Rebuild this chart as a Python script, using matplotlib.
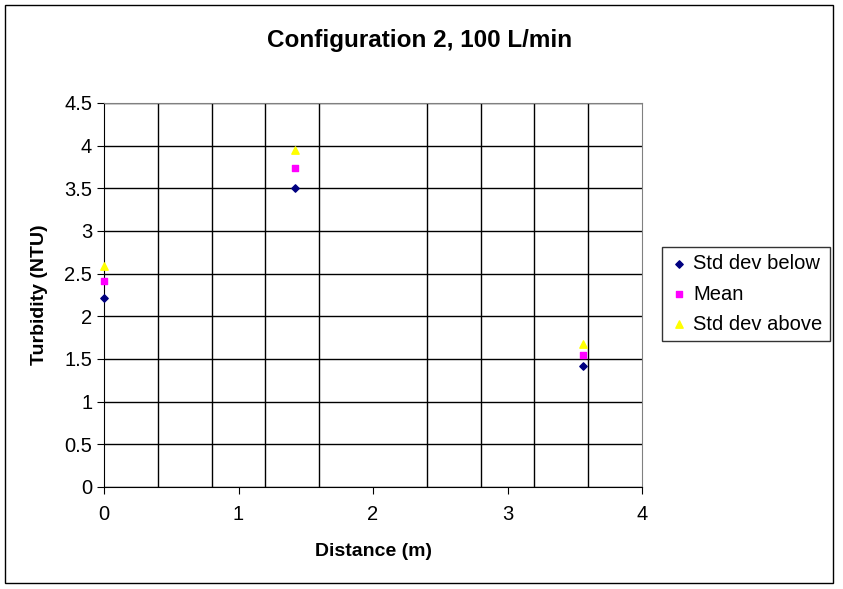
import matplotlib
matplotlib.use("Agg")
import matplotlib.pyplot as plt
import numpy as np

plt.rcParams['font.family'] = ['Liberation Sans', 'DejaVu Sans']

distance = [0.0, 1.42, 3.56]
std_below = [2.22, 3.50, 1.42]
mean = [2.41, 3.74, 1.55]
std_above = [2.59, 3.95, 1.67]

fig = plt.figure(figsize=(8.43, 5.89), dpi=100)
# outer chart frame
fig.add_artist(plt.Rectangle((5 / 843, 1 - 583 / 589), 828 / 843, 578 / 589,
                             transform=fig.transFigure, fill=False, ec='black', lw=1))

ax = fig.add_axes([104 / 843, 1 - 487 / 589, 538 / 843, 384 / 589])

ax.scatter(distance, std_below, marker='D', s=14, color='#000080', label='Std dev below', zorder=3, clip_on=False)
ax.scatter(distance, mean, marker='s', s=22, color='#FF00FF', label='Mean', zorder=3, clip_on=False)
ax.scatter(distance, std_above, marker='^', s=28, color='#FFFF00', label='Std dev above', zorder=3, clip_on=False)

ax.set_xlim(0, 4)
ax.set_ylim(0, 4.5)
ax.set_xticks(np.arange(0, 5, 1))
ax.set_xticks(np.arange(0, 4.01, 0.4), minor=True)
ax.set_yticks(np.arange(0, 4.51, 0.5))
ax.set_yticklabels(['0', '0.5', '1', '1.5', '2', '2.5', '3', '3.5', '4', '4.5'])
ax.grid(True, which='minor', axis='x', color='black', lw=1)
ax.grid(True, which='major', axis='y', color='black', lw=1)
ax.tick_params(axis='x', which='minor', length=0)
ax.tick_params(axis='both', which='major', direction='out', length=5, labelsize=14.5, colors='black')
ax.tick_params(axis='x', pad=8)

for side in ['top', 'right']:
    ax.spines[side].set_color('#808080')
for side in ['left', 'bottom']:
    ax.spines[side].set_color('black')

ax.set_xlabel('Distance (m)', fontsize=14, fontweight='bold', labelpad=14)
ax.set_ylabel('Turbidity (NTU)', fontsize=14, fontweight='bold', labelpad=12)
fig.text(420 / 843, 1 - 40 / 589, 'Configuration 2, 100 L/min', fontsize=17.5, fontweight='bold',
         ha='center', va='center')

leg = ax.legend(loc='center left', bbox_to_anchor=(662 / 843, 1 - 294 / 589), bbox_transform=fig.transFigure,
                frameon=True, fancybox=False, fontsize=14.5, handletextpad=0.2, borderpad=0.35,
                labelspacing=0.55, handlelength=1.0, borderaxespad=0)
leg.get_frame().set_edgecolor('black')
leg.get_frame().set_linewidth(1)

fig.savefig('out.png', dpi=100)
